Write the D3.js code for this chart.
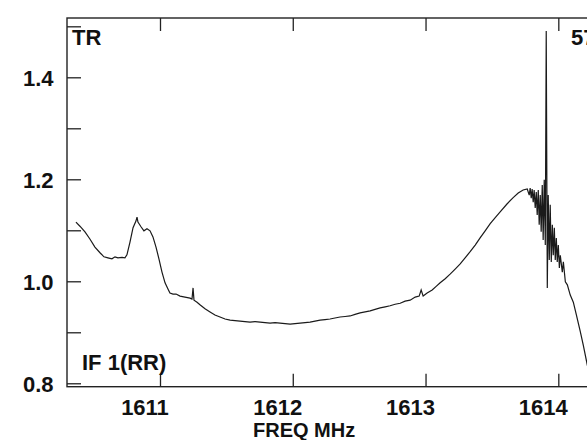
<!DOCTYPE html>
<html>
<head>
<meta charset="utf-8">
<script src="https://cdn.jsdelivr.net/npm/d3@7/dist/d3.min.js"></script>
<style>
html,body{margin:0;padding:0;background:#fff;}
svg{display:block;}
text{font-family:"Liberation Sans",Arial,Helvetica,sans-serif;font-weight:bold;fill:#111;}
</style>
</head>
<body>
<svg id="chart" width="587" height="440"></svg>
<script>
// Spectrum data: frequency (MHz) and relative intensity
const freq = [
1610.367,1610.397,1610.435,1610.472,1610.510,1610.548,1610.578,1610.608,1610.638,1610.661,
1610.683,1610.714,1610.736,1610.751,1610.774,1610.797,1610.819,1610.827,1610.834,1610.857,
1610.879,1610.902,1610.925,1610.947,1610.970,1610.992,1611.015,1611.038,1611.060,1611.075,
1611.098,1611.121,1611.151,1611.188,1611.226,1611.241,1611.249,1611.256,1611.279,1611.301,
1611.339,1611.377,1611.414,1611.452,1611.490,1611.528,1611.565,1611.603,1611.640,1611.678,
1611.716,1611.754,1611.791,1611.829,1611.867,1611.904,1611.942,1611.980,1612.017,1612.055,
1612.093,1612.130,1612.168,1612.206,1612.243,1612.281,1612.318,1612.356,1612.394,1612.432,
1612.469,1612.507,1612.545,1612.583,1612.620,1612.658,1612.696,1612.733,1612.771,1612.809,
1612.846,1612.884,1612.922,1612.952,1612.967,1612.982,1613.012,1613.050,1613.080,1613.110,
1613.148,1613.185,1613.223,1613.261,1613.298,1613.336,1613.374,1613.411,1613.449,1613.487,
1613.525,1613.562,1613.615,1613.660,1613.698,1613.735,1613.766,1613.781,1613.788,1613.796,
1613.803,1613.811,1613.818,1613.826,1613.834,1613.841,1613.849,1613.856,1613.864,1613.871,
1613.879,1613.886,1613.894,1613.902,1613.909,1613.917,1613.924,1613.932,1613.939,1613.947,
1613.955,1613.962,1613.970,1613.977,1613.985,1613.992,1614.000,1614.008,1614.015,1614.030,
1614.038,1614.053,1614.068,1614.090,1614.113,1614.136,1614.166,1614.188,1614.218,1614.240
];
const intensity = [
1.116,1.108,1.097,1.083,1.067,1.056,1.048,1.046,1.044,1.048,
1.046,1.047,1.046,1.052,1.077,1.105,1.118,1.126,1.116,1.107,
1.099,1.103,1.099,1.087,1.067,1.044,1.018,0.997,0.985,0.977,
0.975,0.975,0.971,0.969,0.967,0.965,0.987,0.963,0.959,0.954,
0.946,0.940,0.934,0.930,0.926,0.924,0.923,0.922,0.921,0.920,
0.921,0.920,0.919,0.918,0.919,0.918,0.917,0.916,0.917,0.918,
0.919,0.920,0.922,0.924,0.925,0.926,0.928,0.930,0.931,0.932,
0.935,0.938,0.940,0.942,0.945,0.948,0.950,0.952,0.955,0.957,
0.961,0.963,0.969,0.971,0.983,0.971,0.977,0.983,0.990,0.997,
1.005,1.014,1.024,1.034,1.046,1.058,1.071,1.085,1.099,1.113,
1.125,1.136,1.152,1.164,1.173,1.179,1.181,1.169,1.183,1.163,
1.181,1.155,1.179,1.144,1.175,1.130,1.179,1.111,1.169,1.097,
1.189,1.081,1.199,1.071,1.491,0.987,1.169,1.042,1.150,1.038,
1.111,1.051,1.105,1.042,1.085,1.038,1.071,1.026,1.051,1.018,
1.038,0.999,0.993,0.973,0.959,0.934,0.901,0.875,0.836,0.810
];
const yTicks = [0.8, 0.9, 1.0, 1.1, 1.2, 1.3, 1.4, 1.5];
const yTickLabels = ["0.8", "1.0", "1.2", "1.4"];
const xTicks = [1611, 1612, 1613, 1614];
const xTickLabels = ["1611", "1612", "1613", "1614"];
const xTitle = "FREQ MHz";
const topLeftLabel = "TR";
const topRightLabel = "57";
const bottomLeftLabel = "IF 1(RR)";

const data = freq.map((f, i) => ({f: f, v: intensity[i]}));

const svg = d3.select("#chart");
const L = 67, R = 601, T = 18, B = 386.7;

const x = d3.scaleLinear().domain([1610.2996, 1614.3215]).range([L, R]);
const y = d3.scaleLinear().domain([0.7933, 1.5163]).range([B, T]);

const axisColor = "#222";

// Frame
svg.append("rect").attr("x", L).attr("y", T).attr("width", R - L).attr("height", B - T)
  .attr("fill", "none").attr("stroke", axisColor).attr("stroke-width", 1.4);

// Left axis ticks (inward)
const leftAxis = d3.axisRight(y).tickValues(yTicks).tickSize(14).tickFormat("");
svg.append("g").attr("transform", `translate(${L},0)`).call(leftAxis)
  .call(g => g.select(".domain").remove())
  .call(g => g.selectAll("line").attr("stroke", axisColor).attr("stroke-width", 1.3));
// Right axis ticks (inward)
const rightAxis = d3.axisLeft(y).tickValues(yTicks).tickSize(14).tickFormat("");
svg.append("g").attr("transform", `translate(${R},0)`).call(rightAxis)
  .call(g => g.select(".domain").remove())
  .call(g => g.selectAll("line").attr("stroke", axisColor).attr("stroke-width", 1.3));
// Bottom axis ticks (inward)
const bottomAxis = d3.axisTop(x).tickValues(xTicks).tickSize(13).tickFormat("");
svg.append("g").attr("transform", `translate(0,${B})`).call(bottomAxis)
  .call(g => g.select(".domain").remove())
  .call(g => g.selectAll("line").attr("stroke", axisColor).attr("stroke-width", 1.3));
// Top axis ticks (inward)
const topAxis = d3.axisBottom(x).tickValues(xTicks).tickSize(13).tickFormat("");
svg.append("g").attr("transform", `translate(0,${T})`).call(topAxis)
  .call(g => g.select(".domain").remove())
  .call(g => g.selectAll("line").attr("stroke", axisColor).attr("stroke-width", 1.3));

// Y tick labels
svg.selectAll("text.ylab").data(yTickLabels).enter().append("text")
  .attr("class", "ylab")
  .attr("x", 53.5).attr("y", d => y(+d) + 8.5)
  .attr("text-anchor", "end").attr("font-size", 22)
  .text(d => d);

// X tick labels
svg.selectAll("text.xlab").data(xTickLabels).enter().append("text")
  .attr("class", "xlab")
  .attr("x", d => x(+d) - 15).attr("y", 414.5)
  .attr("text-anchor", "middle").attr("font-size", 22)
  .text(d => d);

// Axis title
svg.append("text").attr("x", 253).attr("y", 437).attr("font-size", 20).text(xTitle);

// Corner labels
svg.append("text").attr("x", 72).attr("y", 45).attr("font-size", 22).text(topLeftLabel);
svg.append("text").attr("x", 571).attr("y", 45).attr("font-size", 22).text(topRightLabel);
svg.append("text").attr("x", 82).attr("y", 369.5).attr("font-size", 22).text(bottomLeftLabel);

// Spectrum line
const line = d3.line().x(d => x(d.f)).y(d => y(d.v));
svg.append("path").datum(data)
  .attr("d", line)
  .attr("fill", "none")
  .attr("stroke", "#1a1a1a")
  .attr("stroke-width", 1.2)
  .attr("stroke-linejoin", "miter");
</script>
</body>
</html>
